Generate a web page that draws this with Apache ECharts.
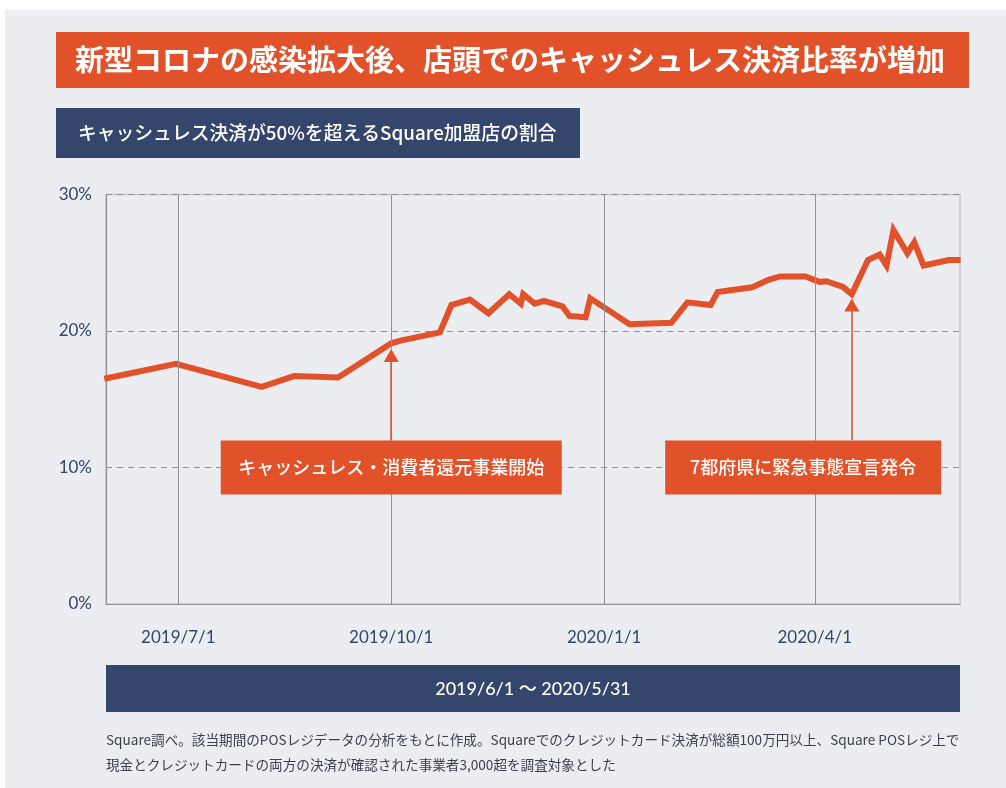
<!DOCTYPE html>
<html>
<head>
<meta charset="utf-8">
<script src="https://cdn.jsdelivr.net/npm/echarts@6/dist/echarts.min.js"></script>
<style>
html, body { margin: 0; padding: 0; background: #ffffff; }
#main { width: 1006px; height: 788px; }
</style>
</head>
<body>
<div id="main"></div>
<script>
// share of Square merchants with cashless > 50%
var dates = [
  '2019-05-30', '2019-06-30', '2019-08-06', '2019-08-20', '2019-09-08',
  '2019-10-01', '2019-10-05', '2019-10-22', '2019-10-27', '2019-11-04',
  '2019-11-12', '2019-11-21', '2019-11-26', '2019-11-27', '2019-12-02',
  '2019-12-06', '2019-12-14', '2019-12-17', '2019-12-24', '2019-12-26',
  '2020-01-12', '2020-01-30', '2020-02-06', '2020-02-16', '2020-02-19',
  '2020-03-05', '2020-03-12', '2020-03-17', '2020-03-28', '2020-04-03',
  '2020-04-06', '2020-04-13', '2020-04-17', '2020-04-24', '2020-04-29',
  '2020-05-02', '2020-05-05', '2020-05-11', '2020-05-14', '2020-05-18',
  '2020-05-29', '2020-06-03'
];
var shares = [
  16.5, 17.6, 15.9, 16.7, 16.6,
  19.1, 19.3, 19.9, 21.9, 22.3,
  21.3, 22.7, 22.0, 22.7, 22.0,
  22.2, 21.8, 21.1, 21.0, 22.4,
  20.5, 20.6, 22.1, 21.9, 22.85,
  23.2, 23.75, 24.0, 24.0, 23.6,
  23.65, 23.25, 22.7, 25.2, 25.6,
  24.8, 27.4, 25.7, 26.5, 24.8,
  25.2, 25.2
];
var tickDates = ['2019-07-01', '2019-10-01', '2020-01-01', '2020-04-01'];
var axisMin = '2019-05-30T18';
var axisMax = '2020-06-02T18';

var events = [
  { name: 'キャッシュレス・消費者還元事業開始', date: '2019-10-01', tip: 18.2, boxDate: '2019-10-01', w: 341 },
  { name: '7都府県に緊急事態宣言発令', date: '2020-04-17', tip: 21.9, boxDate: '2020-03-27', w: 276 }
];

var ORANGE = '#e1522a';
var NAVY = '#34466b';
var GRID = '#8f9297';
var FONT = "Lato, 'Noto Sans CJK JP', sans-serif";
var JP = "'Noto Sans CJK JP', sans-serif";

function ts(s) {
  var dt = s.split('T');
  var p = dt[0].split('-');
  return new Date(+p[0], +p[1] - 1, +p[2], dt[1] ? +dt[1] : 0).getTime();
}

var seriesData = dates.map(function (d, i) { return [ts(d), shares[i]]; });

var chart = echarts.init(document.getElementById('main'), null, { renderer: 'canvas' });

var option = {
  backgroundColor: '#ffffff',
  animation: false,
  textStyle: { fontFamily: FONT },
  graphic: [
    { type: 'rect', z: -10, shape: { x: 5, y: 10, width: 1001, height: 778 }, style: { fill: '#ecedf0' } },
    { type: 'rect', shape: { x: 56, y: 32, width: 913, height: 56 }, style: { fill: ORANGE } },
    { type: 'text', x: 75, y: 60, style: { text: '新型コロナの感染拡大後、店頭でのキャッシュレス決済比率が増加', fill: '#fff', font: 'bold 29px ' + JP, verticalAlign: 'middle' } },
    { type: 'rect', shape: { x: 56, y: 108, width: 524, height: 50 }, style: { fill: NAVY } },
    { type: 'text', x: 78, y: 133, style: { text: 'キャッシュレス決済が50%を超えるSquare加盟店の割合', fill: '#fff', font: '500 18.8px ' + JP, verticalAlign: 'middle' } },
    { type: 'rect', shape: { x: 106, y: 665, width: 854, height: 47 }, style: { fill: NAVY } },
    { type: 'text', x: 533, y: 689, style: { text: '2019/6/1 〜 2020/5/31', fill: '#fff', font: '500 18px ' + FONT, align: 'center', verticalAlign: 'middle' } },
    { type: 'text', x: 106, y: 740, style: { text: 'Square調べ。該当期間のPOSレジデータの分析をもとに作成。Squareでのクレジットカード決済が総額100万円以上、Square POSレジ上で', fill: '#3b3f4a', font: '13.6px ' + JP, verticalAlign: 'middle' } },
    { type: 'text', x: 106, y: 765, style: { text: '現金とクレジットカードの両方の決済が確認された事業者3,000超を調査対象とした', fill: '#3b3f4a', font: '13.6px ' + JP, verticalAlign: 'middle' } }
  ],
  grid: {
    left: 106, right: 46, top: 194.5, bottom: 184,
    show: true, borderColor: '#c3c6cb', borderWidth: 1.5, backgroundColor: 'transparent'
  },
  xAxis: {
    type: 'value',
    min: ts(axisMin),
    max: ts(axisMax),
    axisLine: { show: true, lineStyle: { color: GRID, width: 1.2 } },
    axisTick: { show: false },
    splitLine: { show: false },
    axisLabel: {
      customValues: tickDates.map(ts),
      color: NAVY, fontSize: 17, margin: 25, fontFamily: FONT,
      formatter: function (v) {
        var d = new Date(v);
        return d.getFullYear() + '/' + (d.getMonth() + 1) + '/' + d.getDate();
      }
    }
  },
  yAxis: {
    type: 'value',
    min: 0, max: 30, interval: 10,
    axisLine: { show: true, lineStyle: { color: GRID, width: 1.2 } },
    axisTick: { show: false },
    splitLine: { show: true, lineStyle: { color: GRID, type: [6, 5], width: 1 } },
    axisLabel: { formatter: '{value}%', color: NAVY, fontSize: 17, margin: 14, fontFamily: FONT }
  },
  series: [
    {
      // vertical quarter lines drawn under the data line
      type: 'line',
      z: 1,
      data: [],
      silent: true,
      markLine: {
        silent: true,
        symbol: ['none', 'none'],
        label: { show: false },
        lineStyle: { color: GRID, type: 'solid', width: 1 },
        data: tickDates.map(function (d) { return { xAxis: ts(d) }; })
      }
    },
    {
      type: 'line',
      z: 3,
      clip: true,
      data: seriesData,
      showSymbol: false,
      symbol: 'none',
      lineStyle: { color: ORANGE, width: 6, join: 'miter' },
      markLine: {
        silent: true,
        symbol: ['triangle', 'none'],
        symbolSize: [15, 13],
        label: { show: false },
        lineStyle: { color: ORANGE, type: 'solid', width: 1.5 },
        data: events.map(function (e) {
          return [{ coord: [ts(e.date), e.tip] }, { coord: [ts(e.date), 12] }];
        })
      },
      markPoint: {
        silent: true,
        symbol: 'rect',
        data: events.map(function (e) {
          return {
            coord: [ts(e.boxDate), 10],
            symbolSize: [e.w, 54],
            itemStyle: { color: ORANGE },
            label: {
              show: true, position: 'inside', formatter: e.name,
              color: '#fff', fontSize: 18, fontWeight: 500, fontFamily: JP
            }
          };
        })
      }
    }
  ]
};

chart.setOption(option);
</script>
</body>
</html>
